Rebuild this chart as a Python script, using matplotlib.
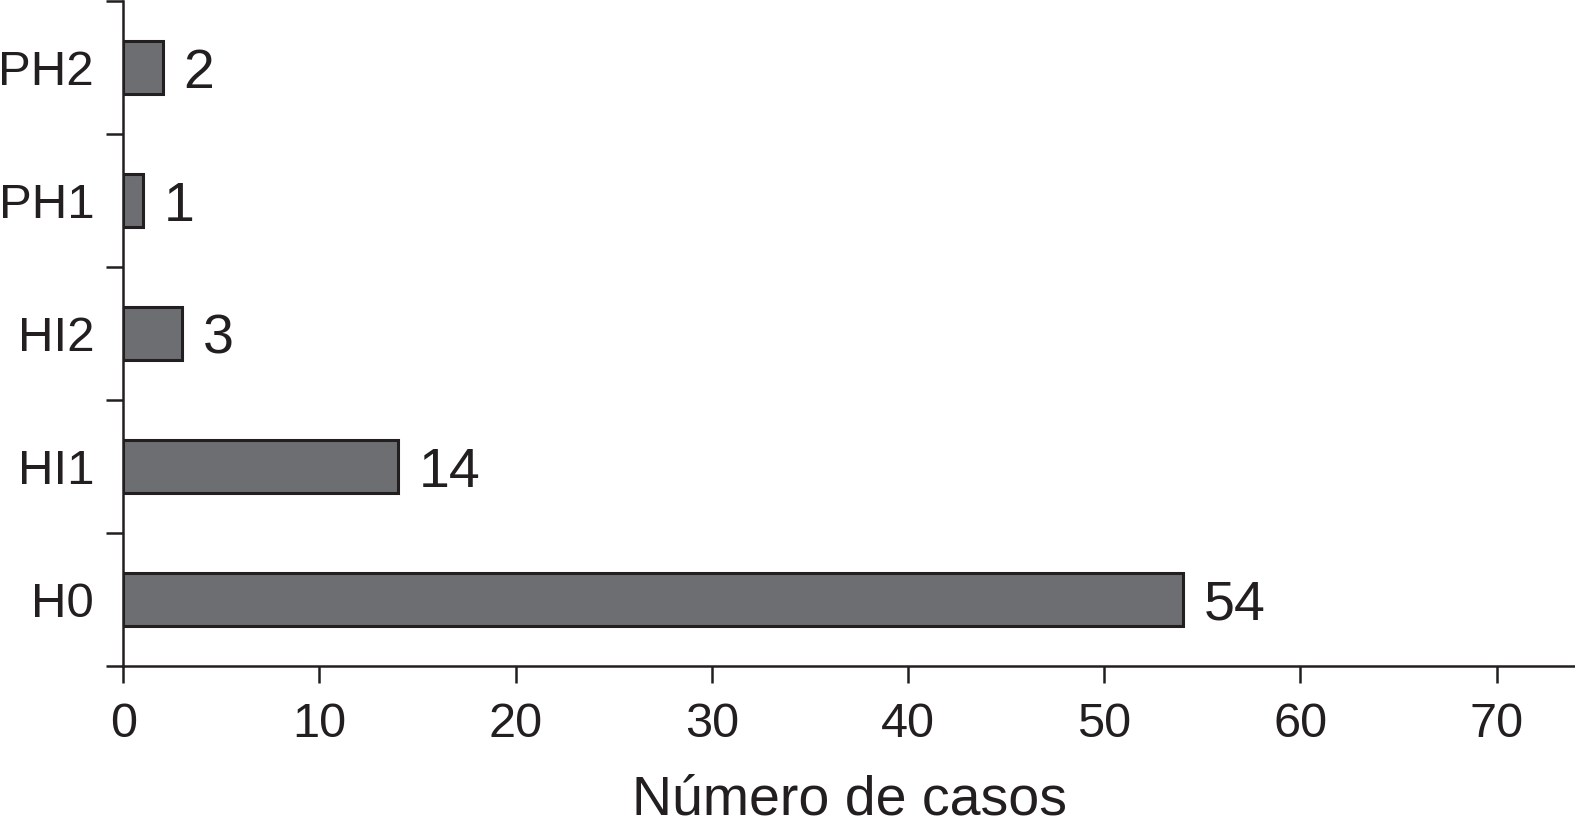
import matplotlib.pyplot as plt
import numpy as np

plt.rcParams['font.family'] = ['Liberation Sans', 'DejaVu Sans']

categories = ['H0', 'HI1', 'HI2', 'PH1', 'PH2']
cases = [54, 14, 3, 1, 2]
xticks = [0, 10, 20, 30, 40, 50, 60, 70]

dark = '#231f20'
bar_color = '#6d6e71'

fig = plt.figure(figsize=(15.75, 8.26), dpi=100)
ax = fig.add_axes([0.0783, 0.1937, 0.9217, 0.805])

pos = np.arange(len(categories))
ax.barh(pos, cases, height=0.4, color=bar_color, edgecolor=dark, linewidth=2.2)

for p, v in zip(pos, cases):
    ax.annotate(str(v), (v, p), xytext=(15, 0), textcoords='offset points',
                va='center_baseline', ha='left', fontsize=40, color=dark)

ax.set_xlim(0, 74)
ax.set_ylim(-0.5, len(categories) - 0.5)

# ticks between categories, labels at centres
ax.set_yticks(np.arange(-0.5, len(categories), 1.0))
ax.set_yticklabels([])
ax.set_yticks(pos, categories, minor=True)
ax.tick_params(axis='y', which='major', length=12, width=1.8, color=dark, direction='out')
ax.tick_params(axis='y', which='minor', length=0, pad=21, labelsize=35.5, labelcolor=dark)

ax.set_xticks(xticks)
ax.tick_params(axis='x', length=12, width=1.8, color=dark, pad=14, labelsize=35, labelcolor=dark)

for s in ['top', 'right']:
    ax.spines[s].set_visible(False)
for s in ['left', 'bottom']:
    ax.spines[s].set_linewidth(1.8)
    ax.spines[s].set_color(dark)

ax.set_xlabel('Número de casos', fontsize=40, color=dark, labelpad=20)

fig.savefig('out.png', dpi=100)
